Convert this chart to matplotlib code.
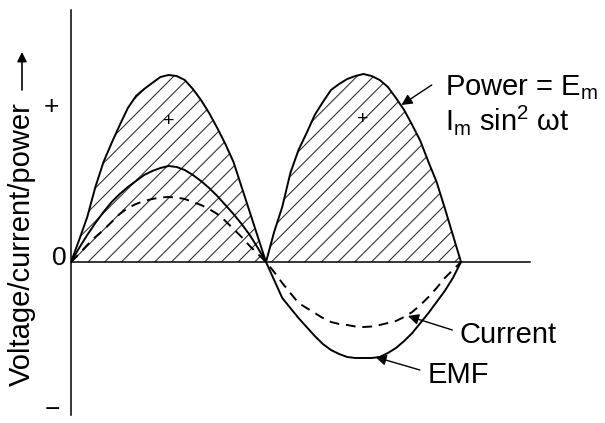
import matplotlib.pyplot as plt

plt.rcParams['font.family'] = ['Liberation Sans', 'DejaVu Sans']
plt.rcParams['mathtext.fontset'] = 'custom'
plt.rcParams['mathtext.rm'] = 'Liberation Sans'
plt.rcParams['mathtext.it'] = 'Liberation Sans:italic'
plt.rcParams['hatch.linewidth'] = 0.8
plt.rcParams['hatch.color'] = '#333333'

# phase angle (deg) over one full cycle, 7.5 deg steps
theta = [0, 7.5, 15, 22.5, 30, 37.5, 45, 52.5, 60, 67.5, 75, 82.5, 90,
         97.5, 105, 112.5, 120, 127.5, 135, 142.5, 150, 157.5, 165, 172.5, 180,
         187.5, 195, 202.5, 210, 217.5, 225, 232.5, 240, 247.5, 255, 262.5, 270,
         277.5, 285, 292.5, 300, 307.5, 315, 322.5, 330, 337.5, 345, 352.5, 360]
# instantaneous power (always positive)
power = [0, 22, 45, 75, 100, 119, 137, 154, 166, 173, 179, 185, 187,
         186, 182, 173, 162, 149, 134, 118, 100, 75, 50, 25, 0,
         30, 55, 89, 112, 129, 147, 160, 172, 178, 183, 186, 188,
         186, 182, 175, 164, 152, 137, 121, 100, 80, 54, 27, 0]
# applied emf
emf = [0, 14, 27, 39, 50, 60, 68, 75, 81, 87, 91, 94, 96,
       95, 92, 87, 81, 74, 66, 57, 48, 38, 27, 14, 0,
       -18, -36, -46, -56, -65, -74, -82, -88, -92, -95, -96, -96,
       -96, -95, -91, -86, -79, -71, -61, -51, -40, -29, -16, 0]
# current
current = [0, 8, 17, 25, 32, 40, 48, 54, 58, 61, 63, 64.5, 65,
           64.5, 63, 60, 57, 53, 48, 41, 33, 25, 16, 8, 0,
           -10, -21, -31, -41, -46, -51, -56, -60, -62, -63, -64.5, -65,
           -64.5, -63, -61, -59, -55, -50, -43, -35, -26, -16, -8, 0]

fig = plt.figure(figsize=(6.05, 4.23), dpi=100)
ax = fig.add_axes([71/605, 8/423, 459/605, 405/423])
ax.set_xlim(0, 423.7)
ax.set_ylim(-153, 252)

# hatched power area
ax.fill_between(theta, power, 0, facecolor='none', edgecolor='#333333',
                hatch='//', linewidth=0)
ax.plot(theta, power, color='k', lw=1.4)
ax.plot(theta, emf, color='k', lw=1.4)
ax.plot(theta, current, color='k', lw=1.4, dashes=(5, 3.5))

for s in ['top', 'right']:
    ax.spines[s].set_visible(False)
ax.spines['bottom'].set_position(('data', 0))
ax.spines['left'].set_linewidth(1.1)
ax.spines['bottom'].set_linewidth(1.1)
ax.set_xticks([])
ax.set_yticks([])

# signs on the axis
ax.text(-18.5, 155, '+', fontsize=19, ha='center', va='center', clip_on=False)
ax.text(-11, 4, '0', fontsize=19, ha='center', va='center', clip_on=False)
ax.text(-17.5, -148, '\u2212', fontsize=19, ha='center', va='center', clip_on=False)
ax.text(90, 140, '+', fontsize=14, ha='center', va='center')
ax.text(269, 142, '+', fontsize=14, ha='center', va='center')

arrow = dict(arrowstyle='-|>', mutation_scale=16, lw=1, color='k',
             shrinkA=0, shrinkB=0)
ax.annotate('', xy=(305, 157), xytext=(333, 177), arrowprops=arrow)
ax.text(345, 167, 'Power = E$_\\mathrm{m}$', fontsize=21, va='baseline')
ax.text(345, 132, 'I$_\\mathrm{m}$ sin$^2$ \u03c9t', fontsize=21, va='baseline')

ax.annotate('', xy=(311, -54), xytext=(352, -68), arrowprops=arrow)
ax.text(359, -81, 'Current', fontsize=21, va='baseline')
ax.annotate('', xy=(281, -95), xytext=(322, -108), arrowprops=arrow)
ax.text(329, -121, 'EMF', fontsize=21, va='baseline')

fig.text(22/605, 1 - 244/423, 'Voltage/current/power', fontsize=21,
         rotation=90, ha='center', va='center')
ax.annotate('', xy=(22, 423 - 52), xytext=(22, 423 - 90),
            xycoords='figure pixels', textcoords='figure pixels',
            arrowprops=dict(arrowstyle='-|>', mutation_scale=14, lw=1.2,
                            color='k', shrinkA=0, shrinkB=0))

fig.savefig('out.png', dpi=100)
